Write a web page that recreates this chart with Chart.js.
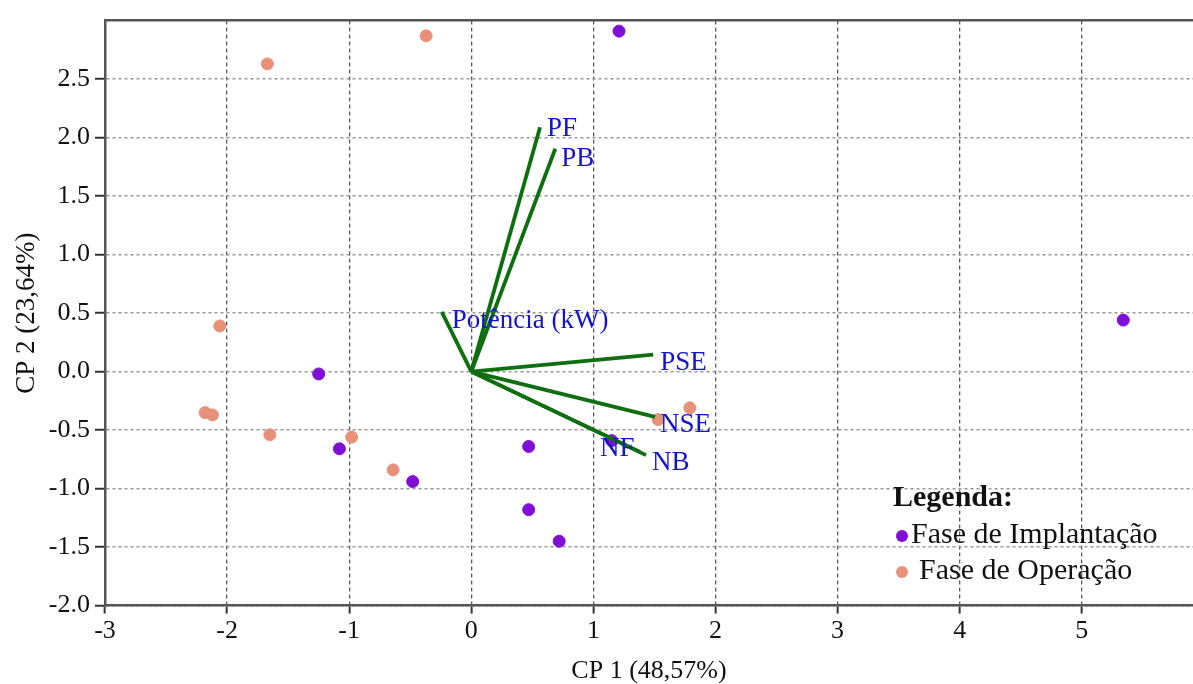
<!DOCTYPE html>
<html>
<head>
<meta charset="utf-8">
<script src="https://cdn.jsdelivr.net/npm/chart.js@4"></script>
<style>
  html, body { margin: 0; padding: 0; background: #fff; overflow: hidden; }
  #wrap { width: 1193px; height: 684px; }
  canvas { display: block; }
</style>
</head>
<body>
<div id="wrap"><canvas id="biplot" width="1193" height="684"></canvas></div>
<script>
// PCA biplot - CP1 x CP2

const xTicks = [-3, -2, -1, 0, 1, 2, 3, 4, 5];
const yTicks = [-2.0, -1.5, -1.0, -0.5, 0.0, 0.5, 1.0, 1.5, 2.0, 2.5];

// scores
const implX = [1.21, 5.34, -1.25, -1.08, -0.48, 0.47, 0.47, 0.72, 1.15];
const implY = [2.91, 0.44, -0.02, -0.66, -0.94, -0.64, -1.18, -1.45, -0.59];
const operX = [-0.37, -1.67, -2.06, -2.18, -2.12, -1.65, -0.98, -0.64, 1.79, 1.53];
const operY = [2.87, 2.63, 0.39, -0.35, -0.37, -0.54, -0.56, -0.84, -0.31, -0.41];

// loadings (vector ends)
const varNames = ["PF", "PB", "Potência (kW)", "PSE", "NSE", "NF", "NB"];
const varX = [0.563, 0.688, -0.242, 1.49, 1.505, 1.382, 1.431];
const varY = [2.089, 1.905, 0.51, 0.146, -0.387, -0.686, -0.714];

// label offsets from the vector end, in px
const labelShift = {
  "PF": [7, 2], "PB": [6, 10], "Potência (kW)": [10, 9], "PSE": [7, 8],
  "NSE": [5, 8], "NF": [-40, -3], "NB": [6, 8]
};

const PURPLE = "#7f0fd6";
const ORANGE = "#e8917a";
const GREEN = "#0f6e0f";
const SERIF = "'Liberation Serif', 'Times New Roman', serif";

const toPts = (xs, ys) => xs.map((x, i) => ({ x: x, y: ys[i] }));

const datasets = [
  {
    label: "Fase de Implantação",
    data: toPts(implX, implY),
    backgroundColor: PURPLE,
    borderColor: PURPLE,
    pointRadius: 6,
    order: 2
  },
  {
    label: "Fase de Operação",
    data: toPts(operX, operY),
    backgroundColor: ORANGE,
    borderColor: ORANGE,
    pointRadius: 6,
    order: 2
  }
];

varNames.forEach((name, i) => {
  datasets.push({
    label: name,
    data: [{ x: 0, y: 0 }, { x: varX[i], y: varY[i] }],
    showLine: true,
    borderColor: GREEN,
    borderWidth: 3.8,
    pointRadius: 0,
    order: 1
  });
});

// vector names in blue
const vectorLabels = {
  id: "vectorLabels",
  afterDatasetsDraw(chart) {
    const ctx = chart.ctx;
    const xs = chart.scales.x, ys = chart.scales.y;
    ctx.save();
    ctx.font = "27px " + SERIF;
    ctx.fillStyle = "#1414c8";
    ctx.textAlign = "left";
    ctx.textBaseline = "middle";
    varNames.forEach((name, i) => {
      const s = labelShift[name];
      ctx.fillText(name, xs.getPixelForValue(varX[i]) + s[0], ys.getPixelForValue(varY[i]) + s[1]);
    });
    ctx.restore();
  }
};

// legend box lower right
const sideLegend = {
  id: "sideLegend",
  afterDraw(chart) {
    const ctx = chart.ctx;
    ctx.save();
    ctx.fillStyle = "#111";
    ctx.textBaseline = "middle";
    ctx.font = "bold 30px " + SERIF;
    ctx.fillText("Legenda:", 893, 498);
    ctx.font = "30px " + SERIF;
    const rows = [[datasets[0], 535, 911], [datasets[1], 571, 919]];
    rows.forEach(([ds, y, tx]) => {
      ctx.fillStyle = ds.backgroundColor;
      ctx.beginPath();
      ctx.arc(902, y + 1, 6, 0, Math.PI * 2);
      ctx.fill();
      ctx.fillStyle = "#111";
      ctx.fillText(ds.label, tx, y);
    });
    ctx.restore();
  }
};

new Chart(document.getElementById("biplot"), {
  type: "scatter",
  data: { datasets: datasets },
  plugins: [vectorLabels, sideLegend],
  options: {
    responsive: false,
    animation: false,
    events: [],
    layout: { autoPadding: false, padding: { top: 20, right: 0, left: 0, bottom: 0 } },
    plugins: { legend: { display: false }, tooltip: { enabled: false } },
    scales: {
      x: {
        type: "linear",
        min: -3,
        max: 5.911,
        afterBuildTicks: s => { s.ticks = xTicks.map(v => ({ value: v })); },
        afterFit: s => { s.height = 78.4; s.paddingLeft = 0; s.paddingRight = 0; },
        ticks: {
          color: "#111",
          font: { family: SERIF, size: 26, lineHeight: 1 },
          padding: 5,
          callback: v => String(v)
        },
        grid: { color: "#5a5a5a", lineWidth: 1.3, tickLength: 8, tickColor: "#333", tickWidth: 2 },
        border: { color: "#555", width: 2.5, dash: [4, 3] },
        title: {
          display: true,
          text: "CP 1 (48,57%)",
          color: "#111",
          font: { family: SERIF, size: 26, lineHeight: 1 },
          padding: { top: 0, bottom: 0 }
        }
      },
      xTop: {
        type: "linear",
        position: "top",
        min: -3,
        max: 5.911,
        afterFit: s => { s.height = 0; },
        ticks: { display: false },
        grid: { display: false, drawTicks: false },
        border: { color: "#555", width: 2.5 }
      },
      y: {
        type: "linear",
        min: -2,
        max: 3,
        afterBuildTicks: s => { s.ticks = yTicks.map(v => ({ value: v })); },
        afterFit: s => { s.width = 105; },
        ticks: {
          color: "#111",
          font: { family: SERIF, size: 26 },
          padding: 5,
          callback: v => v.toFixed(1)
        },
        grid: { color: "#999", lineWidth: 1.5, tickLength: 10, tickColor: "#333", tickWidth: 2 },
        border: { color: "#555", width: 2.5, dash: [3, 3] },
        title: {
          display: true,
          text: "CP 2 (23,64%)",
          color: "#111",
          font: { family: SERIF, size: 27, lineHeight: 1 },
          padding: { top: 13, bottom: 0 }
        }
      }
    }
  }
});
</script>
</body>
</html>
